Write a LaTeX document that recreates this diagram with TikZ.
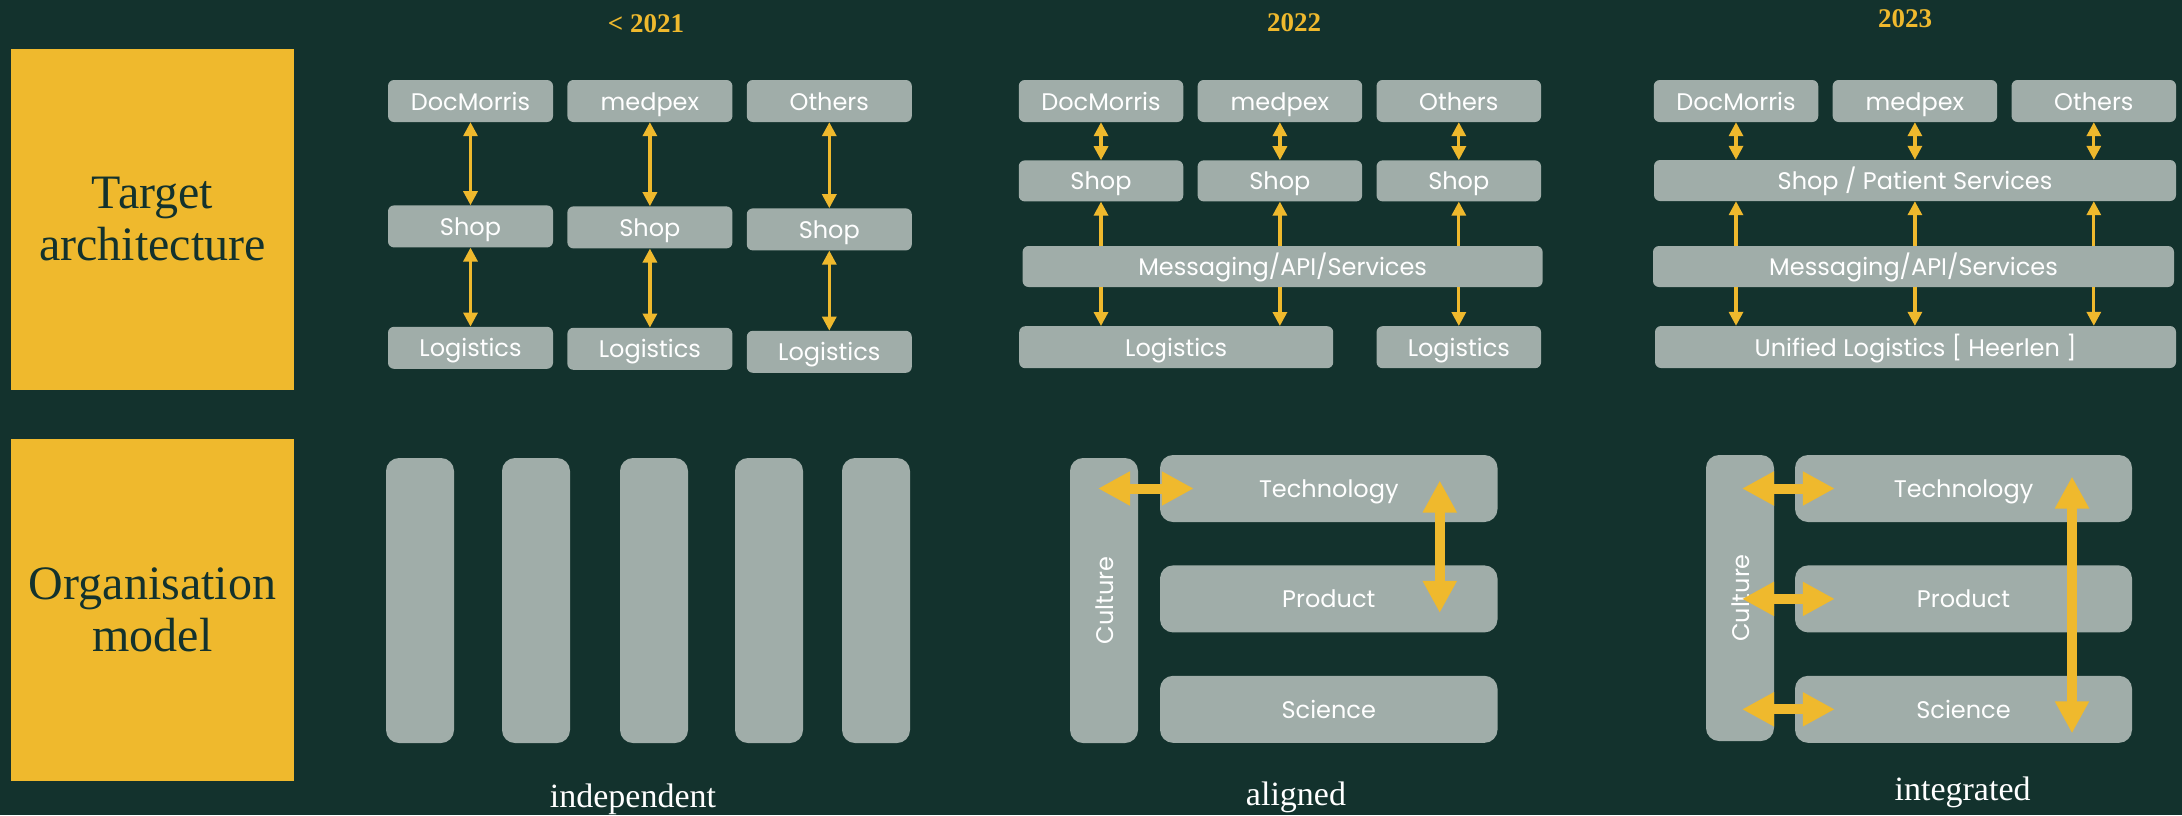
\documentclass[tikz,border=0pt]{standalone}
\usepackage{fontspec}
\setmainfont{Liberation Serif}
\newfontfamily\poppins{Poppins}
\usepackage{tikz}
\usetikzlibrary{arrows.meta,positioning}
\definecolor{bgteal}{HTML}{13322D}
\definecolor{gold}{HTML}{EFB92D}
\definecolor{boxgrey}{HTML}{A0ADA9}

\begin{document}
\begin{tikzpicture}[
    x=1pt, y=-1pt,
    blk/.style={fill=boxgrey, rounded corners=6pt, text=white, inner sep=0pt,
                minimum width=165pt, minimum height=42pt,
                text height=18pt, text depth=0pt,
                font=\poppins\fontsize{24}{28}\selectfont},
    bar/.style={fill=boxgrey, rounded corners=13pt, text=white, inner sep=0pt,
                text height=18pt, text depth=0pt,
                font=\poppins\fontsize{24}{28}\selectfont},
    lane/.style={fill=gold, text=bgteal, align=center, inner sep=0pt,
                 minimum width=283pt, minimum height=341pt,
                 font=\fontsize{48}{52}\selectfont},
    year/.style={text=gold, font=\bfseries\fontsize{27}{30}\selectfont},
    caption/.style={text=white, font=\fontsize{34}{38}\selectfont},
    biarr/.style={draw=gold, line width=3.2pt,
                  {Triangle[length=14pt,width=14pt]}-{Triangle[length=14pt,width=14pt]}},
    onearr/.style={draw=gold, line width=3.2pt, -{Triangle[length=14pt,width=14pt]}},
    fatarr/.style={draw=gold, line width=10pt,
                   {Triangle[length=32pt,width=32pt]}-{Triangle[length=32pt,width=32pt]}},
    node distance=14pt,
  ]
  \useasboundingbox (0,0) rectangle (2182,815);
  \fill[bgteal] (0,0) rectangle (2182,815);

  % row labels
  \node[lane] (target) at (152.5,219.5) {Target\\architecture};
  \node[lane, minimum height=342pt] (orga) at (152.5,610) {Organisation\\model};

  % years
  \node[year] (y21) at (646,24) {< 2021};
  \node[year] (y22) at (1294,23) {2022};
  \node[year] (y23) at (1905,19) {2023};

  % < 2021
  \node[blk] (dm21) at (470.5,101) {DocMorris};
  \node[blk, right=of dm21] (mp21) {medpex};
  \node[blk, right=of mp21] (ot21) {Others};
  \node[blk, below=83pt of dm21] (sh21a) {Shop};
  \node[blk, below=84pt of mp21] (sh21b) {Shop};
  \node[blk, below=86pt of ot21] (sh21c) {Shop};
  \node[blk, below=79pt of sh21a] (lg21a) {Logistics};
  \node[blk, below=79pt of sh21b] (lg21b) {Logistics};
  \node[blk, below=80pt of sh21c] (lg21c) {Logistics};
  \foreach \t/\s/\l in {dm21/sh21a/lg21a, mp21/sh21b/lg21b, ot21/sh21c/lg21c} {
    \draw[biarr] (\t) -- (\s);
    \draw[biarr] (\s) -- (\l);
  }

  % 2022
  \node[blk, minimum width=164.5pt] (dm22) at (1101,101) {DocMorris};
  \node[blk, minimum width=164.5pt, right=of dm22] (mp22) {medpex};
  \node[blk, minimum width=164.5pt, right=of mp22] (ot22) {Others};
  \node[blk, minimum width=164.5pt, minimum height=41pt, below=38pt of dm22] (sh22a) {Shop};
  \node[blk, minimum width=164.5pt, minimum height=41pt, below=38pt of mp22] (sh22b) {Shop};
  \node[blk, minimum width=164.5pt, minimum height=41pt, below=38pt of ot22] (sh22c) {Shop};
  \node[blk, minimum width=520pt, minimum height=41pt] (msg22) at (1282.6,266.5) {Messaging/API/Services};
  \node[blk, minimum width=314pt, anchor=north west] (lg22a) at (1019,326) {Logistics};
  \node[blk, minimum width=164.5pt, anchor=north] (lg22b) at (ot22.south |- lg22a.north) {Logistics};
  \foreach \t/\s in {dm22/sh22a, mp22/sh22b, ot22/sh22c} {
    \draw[biarr] (\t) -- (\s);
    \draw[onearr] (msg22.north -| \s) -- (\s);
  }
  \draw[onearr] (msg22.south -| sh22a) -- (lg22a.north -| sh22a);
  \draw[onearr] (msg22.south -| sh22b) -- (lg22a.north -| sh22b);
  \draw[onearr] (msg22.south -| sh22c) -- (lg22b);

  % 2023
  \node[blk, minimum width=164.5pt] (dm23) at (1736,101) {DocMorris};
  \node[blk, minimum width=164.5pt, right=of dm23] (mp23) {medpex};
  \node[blk, minimum width=164.5pt, right=of mp23] (ot23) {Others};
  \node[blk, minimum width=522pt, minimum height=41pt] (sh23) at (1915,180.5) {Shop / Patient Services};
  \node[blk, minimum width=521pt, minimum height=41pt] (msg23) at (1913.5,266.5) {Messaging/API/Services};
  \node[blk, minimum width=521pt] (lg23) at (1915.5,347) {Unified Logistics [ Heerlen ]};
  \foreach \t in {dm23, mp23, ot23} {
    \draw[biarr] (\t) -- (\t |- sh23.north);
    \draw[onearr] (msg23.north -| \t) -- (sh23.south -| \t);
    \draw[onearr] (msg23.south -| \t) -- (lg23.north -| \t);
  }

  % independent
  \foreach \x [count=\i] in {420,536,654,769,876}
    \node[bar, minimum width=68pt, minimum height=285pt] (col\i) at (\x,600.5) {};
  \node[caption] (indep) at (633,799) {independent};

  % aligned
  \node[bar, rotate=90, minimum width=285pt, minimum height=68pt] (cul22) at (1104,600.5) {Culture};
  \node[bar, minimum width=337.5pt, minimum height=67pt] (tech22) at (1328.75,488.5) {Technology};
  \node[bar, minimum width=337.5pt, minimum height=67pt, below=43pt of tech22] (prod22) {Product};
  \node[bar, minimum width=337.5pt, minimum height=67pt, below=43pt of prod22] (sci22) {Science};
  \draw[fatarr] ([xshift=-6pt]cul22.center |- tech22.west) -- ([xshift=34pt]tech22.west);
  \draw[fatarr] ([xshift=111pt,yshift=8pt]tech22.center) -- ([xshift=111pt,yshift=-14pt]prod22.center);
  \node[caption] (align) at (1296,797) {aligned};

  % integrated
  \node[bar, rotate=90, minimum width=286pt, minimum height=68pt] (cul23) at (1740,598) {Culture};
  \node[bar, minimum width=337pt, minimum height=67pt] (tech23) at (1963.5,488.5) {Technology};
  \node[bar, minimum width=337pt, minimum height=67pt, below=43pt of tech23] (prod23) {Product};
  \node[bar, minimum width=337pt, minimum height=67pt, below=43pt of prod23] (sci23) {Science};
  \foreach \r in {tech23, prod23, sci23}
    \draw[fatarr] ([xshift=2pt]cul23.center |- \r.west) -- ([xshift=40pt]\r.west);
  \draw[fatarr] ([xshift=108.5pt,yshift=12pt]tech23.center) -- ([xshift=108.5pt,yshift=-24pt]sci23.center);
  \node[caption] (integ) at (1962.6,792) {integrated};
\end{tikzpicture}
\end{document}
